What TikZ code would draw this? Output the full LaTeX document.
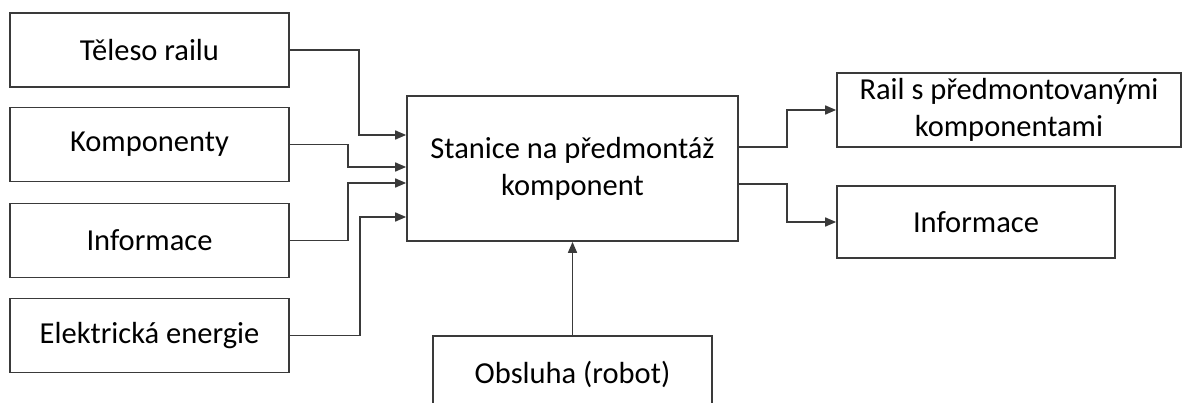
\documentclass[tikz,border=0pt]{standalone}
\usepackage{fontspec}
\setmainfont{Carlito}
\usetikzlibrary{arrows.meta}
\definecolor{ln}{HTML}{3A3A3A}
\tikzset{
  blk/.style={draw=ln, line width=1.7pt, rectangle, inner sep=0pt, align=center,
    font=\fontsize{30.5}{37}\selectfont, text=black},
  conn/.style={draw=ln, line width=1.6pt, -{Triangle[length=11pt,width=9pt]}}
}
\begin{document}
\begin{tikzpicture}[x=1pt,y=-1pt]
\useasboundingbox (0,0) rectangle (1183,403);
\node[blk, minimum width=279pt, minimum height=74pt] (t1) at (149.5,50) {Těleso railu};
\node[blk, minimum width=279pt, minimum height=74pt] (t2) at (149.5,144.5) {Komponenty};
\node[blk, minimum width=279pt, minimum height=74pt] (t3) at (149.5,240.5) {Informace};
\node[blk, minimum width=279pt, minimum height=74pt] (t4) at (149.5,335.5) {Elektrická energie};
\node[blk, minimum width=331pt, minimum height=145pt] (c) at (572.5,168.5) {Stanice na předmontáž\\komponent};
\node[blk, minimum width=344pt, minimum height=74pt] (r1) at (1009,110) {Rail s předmontovanými\\komponentami};
\node[blk, minimum width=278pt, minimum height=72pt] (r2) at (976,222) {Informace};
\node[blk, minimum width=279pt, minimum height=76pt] (b) at (572.5,374) {Obsluha (robot)};
\draw[conn] (t1.east) -| (359,135) -- (c.west |- 0,135);
\draw[conn] (t2.east) -| (348,167) -- (c.west |- 0,167);
\draw[conn] (t3.east) -| (348,183) -- (c.west |- 0,183);
\draw[conn] (t4.east) -| (360,217) -- (c.west |- 0,217);
\draw[conn] (c.east |- 0,147) -| (787,110) -- (r1.west);
\draw[conn] (c.east |- 0,184) -| (787,222) -- (r2.west);
\draw[conn] (b.north) -- (c.south);
\end{tikzpicture}
\end{document}
